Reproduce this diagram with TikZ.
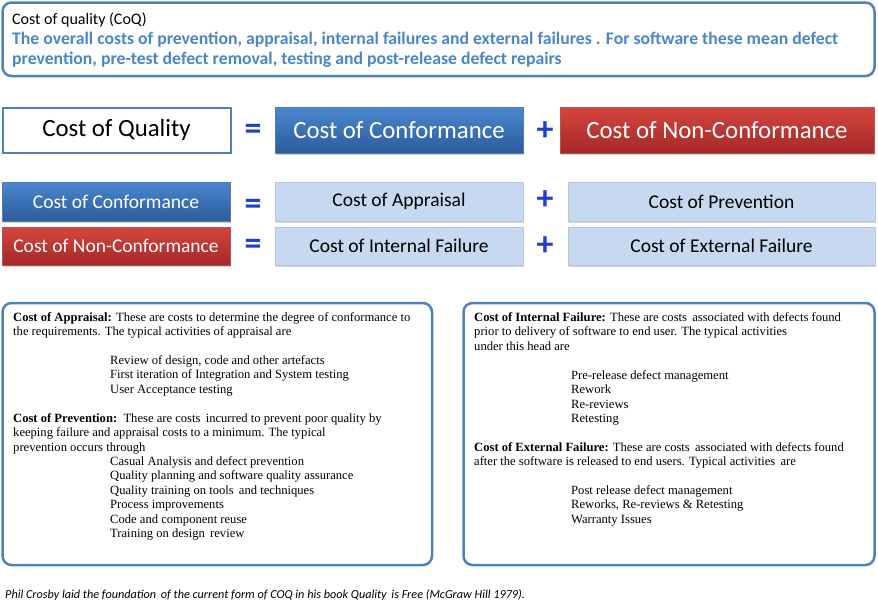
\documentclass[tikz,border=0pt]{standalone}
\usepackage{fontspec}
\setmainfont{Liberation Serif}
\newfontfamily\calfont{Carlito}
\usetikzlibrary{shadows}
\definecolor{frameblue}{HTML}{4F81BD}
\definecolor{textblue}{HTML}{4A86C8}
\definecolor{opblue}{HTML}{1F3FCF}
\definecolor{blueTop}{HTML}{4A87D0}
\definecolor{blueBot}{HTML}{2C5B9A}
\definecolor{redTop}{HTML}{D5453F}
\definecolor{redBot}{HTML}{A32927}
\definecolor{pale}{HTML}{C6D9F1}
\tikzset{
  frame/.style={draw=frameblue, line width=2.5pt, rounded corners=9pt, fill=white},
  shad/.style={drop shadow={opacity=0.35, shadow xshift=1pt, shadow yshift=-2pt}},
  bluebox/.style={shad, top color=blueTop, bottom color=blueBot, draw=blueBot!80, line width=0.4pt, text=white, font=\calfont\fontsize{19.5}{22}\selectfont},
  redbox/.style={shad, top color=redTop, bottom color=redBot, draw=redBot!80, line width=0.4pt, text=white, font=\calfont\fontsize{19.5}{22}\selectfont},
  palebox/.style={shad, fill=pale, draw=pale!80!gray, line width=0.4pt, text=black, font=\calfont\fontsize{19.5}{22}\selectfont},
  bigtxt/.style={font=\calfont\fontsize{24.8}{28}\selectfont},
  op/.style={text=opblue, font=\calfont\bfseries\fontsize{34}{34}\selectfont, inner sep=0pt},
  para/.style={anchor=north west, align=left, inner sep=0pt, font=\fontsize{12.6}{14.5}\selectfont}
}
\begin{document}
\begin{tikzpicture}[x=1pt,y=-1pt]
\useasboundingbox (0,0) rectangle (878,603);
% top box
\draw[frame] (2.5,2.5) rectangle (874.5,76);
\node[anchor=base west, inner sep=0pt, font=\calfont\fontsize{16}{18}\selectfont] (coqtitle) at (12,24) {Cost of quality (CoQ)};
\node[anchor=north west, align=left, inner sep=0pt, text=textblue, font=\calfont\bfseries\fontsize{17.7}{20}\selectfont] (coqdef) at (12,30)
 {\strut The overall costs of prevention, appraisal, internal failures and external failures . For software these mean defect\\prevention, pre-test defect removal, testing and post-release defect repairs};
% row 1
\node[draw=frameblue, line width=2pt, fill=white, minimum width=228pt, minimum height=45pt, bigtxt] (coq) at (116.5,130) {Cost of Quality};
\node[op] (eq1) at (253,132) {=};
\node[bluebox, bigtxt, minimum width=248pt, minimum height=46pt] (coc1) at (399,130) {Cost of Conformance};
\node[op] (pl1) at (545,131) {+};
\node[redbox, bigtxt, minimum width=314pt, minimum height=46pt] (conc1) at (717,130) {Cost of Non-Conformance};
% row 2
\node[bluebox, minimum width=228pt, minimum height=39pt] (coc2) at (116,201.5) {Cost of Conformance};
\node[op] (eq2) at (253,207) {=};
\node[palebox, minimum width=248pt, minimum height=39pt] (appr) at (399,201.5) {Cost of Appraisal};
\node[op] (pl2) at (545,200) {+};
\node[palebox, minimum width=307pt, minimum height=39pt] (prev) at (721.5,201.5) {Cost of Prevention};
% row 3
\node[redbox, minimum width=228pt, minimum height=38pt] (conc2) at (116,246) {Cost of Non-Conformance};
\node[op] (eq3) at (253,247) {=};
\node[palebox, minimum width=248pt, minimum height=38pt] (intf) at (399,246) {Cost of Internal Failure};
\node[op] (pl3) at (545,246) {+};
\node[palebox, minimum width=307pt, minimum height=38pt] (extf) at (721.5,246) {Cost of External Failure};
% bottom boxes
\draw[frame] (2.5,303) rectangle (432,565);
\draw[frame] (463.5,303) rectangle (874.5,565);
\node[para] (apprtxt) at (13,311) {\strut\textbf{Cost of Appraisal:} These are costs to determine the degree of conformance to\\the requirements. The typical activities of appraisal are};
\node[para] (apprlist) at (110,354) {\strut Review of design, code and other artefacts\\First iteration of Integration and System testing\\User Acceptance testing};
\node[para] (prevtxt) at (13,412) {\strut\textbf{Cost of Prevention:}\, These are costs\, incurred to prevent poor quality by\\keeping failure and appraisal costs to a minimum. The typical\\prevention occurs through};
\node[para] (prevlist) at (110,455) {\strut Casual Analysis and defect prevention\\Quality planning and software quality assurance\\Quality training on tools\, and techniques\\Process improvements\\Code and component reuse\\Training on design\, review};
\node[para] (inttxt) at (474,311) {\strut\textbf{Cost of Internal Failure:} These are costs\, associated with defects found\\prior to delivery of software to end user. The typical activities\\under this head are};
\node[para] (intlist) at (571,369) {\strut Pre-release defect management\\Rework\\Re-reviews\\Retesting};
\node[para] (exttxt) at (474,441) {\strut\textbf{Cost of External Failure:} These are costs\, associated with defects found\\after the software is released to end users. Typical activities\, are};
\node[para] (extlist) at (571,484) {\strut Post release defect management\\Reworks, Re-reviews \& Retesting\\Warranty Issues};
% footer
\node[anchor=base west, inner sep=0pt, font=\calfont\itshape\fontsize{12.2}{14}\selectfont] (foot) at (5,598) {Phil Crosby laid the foundation\, of the current form of COQ in his book Quality\, is Free (McGraw Hill 1979).};
\end{tikzpicture}
\end{document}
